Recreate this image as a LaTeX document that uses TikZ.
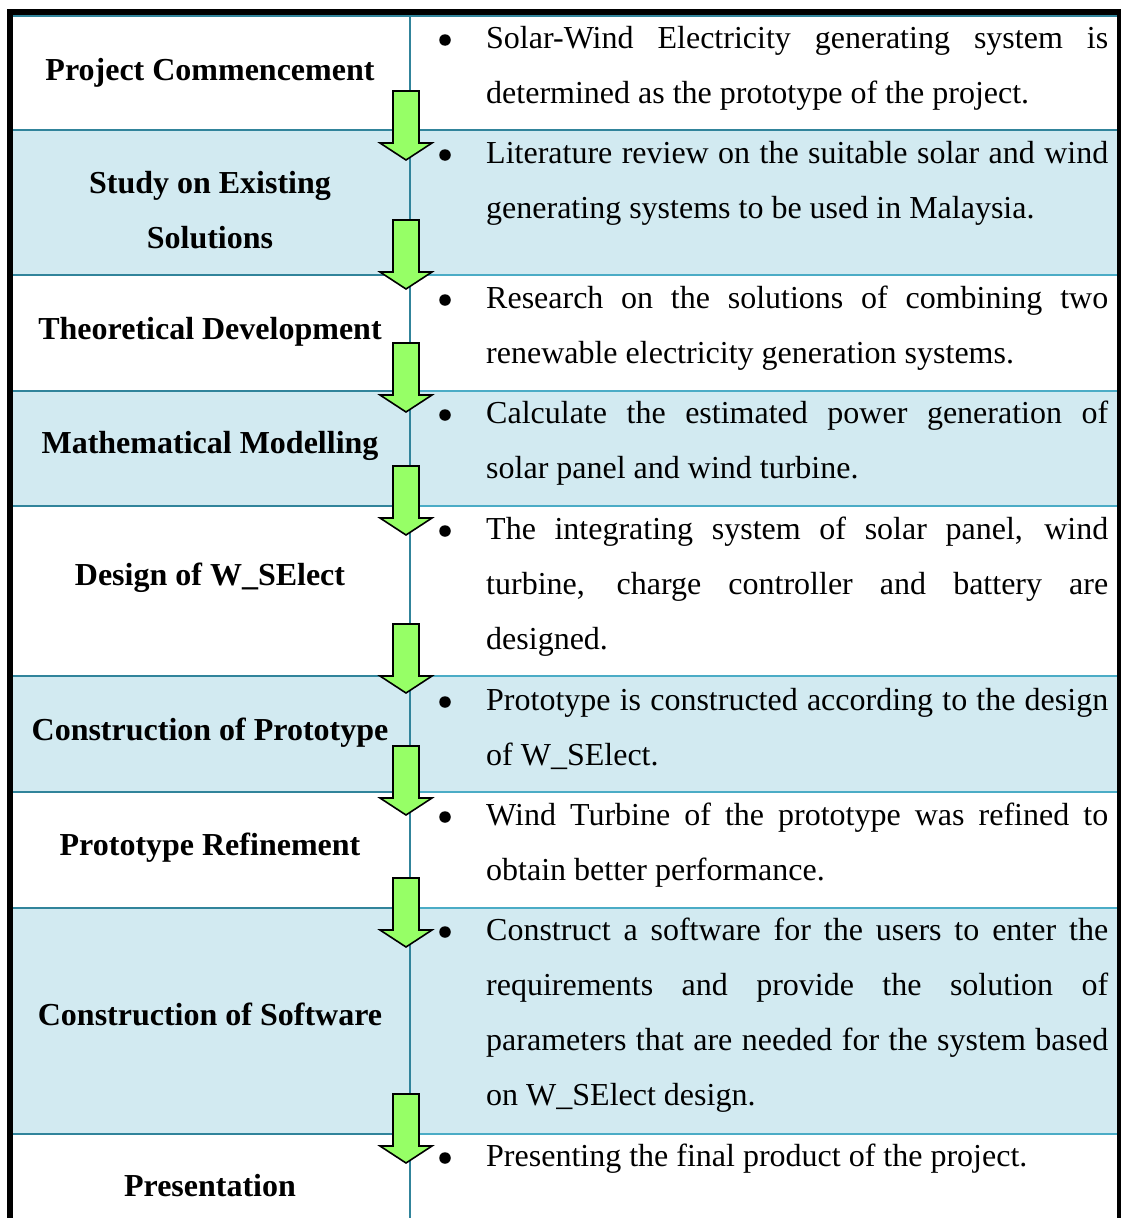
\documentclass[tikz,border=0pt]{standalone}
\usepackage{fontspec}
\setmainfont{Liberation Serif}
\definecolor{tealdark}{HTML}{31849B}
\definecolor{teallight}{HTML}{4BACC6}
\definecolor{rowshade}{HTML}{D2EAF1}
\definecolor{arrowgreen}{HTML}{96FF66}
\newcommand\rtsetup{\hyphenpenalty=10000\relax\exhyphenpenalty=10000\relax\tolerance=10000\relax\hbadness=10000\relax}
\begin{document}
\begin{tikzpicture}[x=1pt,y=-1pt,
  lefttext/.style={font=\fontsize{32}{40}\selectfont\bfseries, anchor=base, inner sep=0pt},
  righttext/.style={font=\fontsize{32}{55.3}\selectfont\rtsetup,
     text width=622pt, align=justify, anchor=base west, inner sep=0pt},
  bulletdot/.style={circle, fill=black, inner sep=0pt, minimum size=11.5pt},
  shadedrow/.style={fill=rowshade, draw=none},
  rowlineL/.style={draw=tealdark, line width=2pt},
  rowlineR/.style={draw=teallight, line width=2pt},
  divider/.style={draw=tealdark, line width=1.5pt},
  blockarrow/.style={fill=arrowgreen, draw=black, line width=1.6pt, line join=miter}]
\useasboundingbox (0,0) rectangle (1121,1218);
\fill[white] (0,0) rectangle (1121,1218);
% shaded rows
\fill[shadedrow] (12,130) rectangle (1117,275);
\fill[shadedrow] (12,391) rectangle (1117,506);
\fill[shadedrow] (12,676) rectangle (1117,792);
\fill[shadedrow] (12,908) rectangle (1117,1134);
% row lines
\draw[rowlineL] (12,16) -- (1117,16);
\draw[rowlineL] (12,130) -- (1117,130);
\foreach \y in {275,391,506,676,792,908,1134}{
  \draw[rowlineL] (12,\y) -- (410,\y);
  \draw[rowlineR] (410,\y) -- (1117,\y);
}
% column divider
\draw[divider] (410,16) -- (410,1218);
% outer black border
\fill[black] (7,9) rectangle (1121,15);
\fill[black] (7,9) rectangle (12.5,1218);
\fill[black] (1117,9) rectangle (1121,1218);
% block arrows
\foreach \t in {91,220,343,466,624,746,878,1094}{
  \draw[blockarrow] (393,\t) -- (419,\t) -- (419,\t+52) -- (432,\t+52) -- (406,\t+69)
     -- (380,\t+52) -- (393,\t+52) -- cycle;
}
% left column texts
\node[lefttext] (s1) at (210,80) {Project Commencement};
\node[lefttext] (s2a) at (210,193) {Study on Existing};
\node[lefttext] (s2b) at (210,248) {Solutions};
\node[lefttext] (s3) at (210,339) {Theoretical Development};
\node[lefttext] (s4) at (210,453) {Mathematical Modelling};
\node[lefttext] (s5) at (210,585) {Design of W\_SElect};
\node[lefttext] (s6) at (210,740) {Construction of Prototype};
\node[lefttext] (s7) at (210,855) {Prototype Refinement};
\node[lefttext] (s8) at (210,1025) {Construction of Software};
\node[lefttext] (s9) at (210,1196) {Presentation};
% bullets
\foreach \b/\y in {1/48,2/163,3/308,4/423,5/539,6/710,7/825,8/940,9/1166}{
  \node[bulletdot] (b\b) at (445,\y-8) {};
}
% right column texts
\node[righttext] (d1) at (486,48) {Solar-Wind Electricity generating system is\linebreak determined as the prototype of the project.};
\node[righttext] (d2) at (486,163) {Literature review on the suitable solar and wind\linebreak generating systems to be used in Malaysia.};
\node[righttext] (d3) at (486,308) {Research on the solutions of combining two\linebreak renewable electricity generation systems.};
\node[righttext] (d4) at (486,423) {Calculate the estimated power generation of\linebreak solar panel and wind turbine.};
\node[righttext] (d5) at (486,539) {The integrating system of solar panel, wind\linebreak turbine, charge controller and battery are\linebreak designed.};
\node[righttext] (d6) at (486,710) {Prototype is constructed according to the design\linebreak of W\_SElect.};
\node[righttext] (d7) at (486,825) {Wind Turbine of the prototype was refined to\linebreak obtain better performance.};
\node[righttext] (d8) at (486,940) {Construct a software for the users to enter the\linebreak requirements and provide the solution of\linebreak parameters that are needed for the system based\linebreak on W\_SElect design.};
\node[righttext] (d9) at (486,1166) {Presenting the final product of the project.};
\end{tikzpicture}
\end{document}
